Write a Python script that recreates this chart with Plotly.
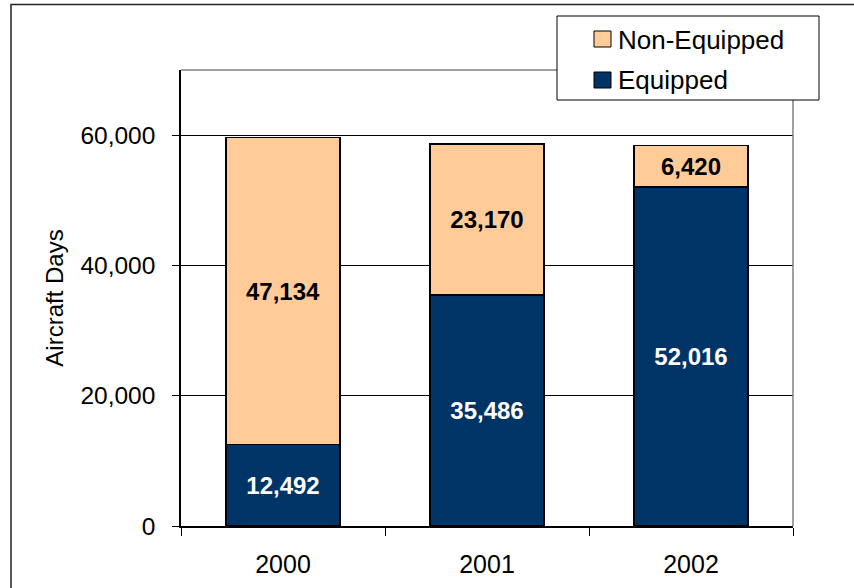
import plotly.graph_objects as go

# Aircraft days by equipage status, per year
years = ["2000", "2001", "2002"]
equipped = [12492, 35486, 52016]
non_equipped = [47134, 23170, 6420]
y_ticks = [0, 20000, 40000, 60000]

W, H = 854, 588
L, R, T, B = 181, 61, 70, 62
PW, PH = W - L - R, H - T - B

FONT = "Arial, Liberation Sans, sans-serif"
NAVY = "#003366"
PEACH = "#FFCC99"


def px(x):
    return (x - L) / PW


def py(y):
    return (H - B - y) / PH


fig = go.Figure()
fig.add_trace(go.Bar(
    x=years, y=equipped, name="Equipped",
    marker=dict(color=NAVY, line=dict(color="black", width=1.5)),
    text=[f"{v:,}" for v in equipped], textposition="inside",
    insidetextanchor="middle", constraintext="none",
    textfont=dict(family=FONT, size=24, color="white", weight="bold"),
    showlegend=False,
))
fig.add_trace(go.Bar(
    x=years, y=non_equipped, name="Non-Equipped",
    marker=dict(color=PEACH, line=dict(color="black", width=1.5)),
    text=[f"{v:,}" for v in non_equipped], textposition="inside",
    insidetextanchor="middle", constraintext="none",
    textfont=dict(family=FONT, size=24, color="black", weight="bold"),
    showlegend=False,
))

shapes = [
    # plot frame: grey top and right edges
    dict(type="line", xref="paper", yref="paper", x0=0, x1=1, y0=1, y1=1,
         line=dict(color="#808080", width=1.5)),
    dict(type="line", xref="paper", yref="paper", x0=1, x1=1, y0=0, y1=1,
         line=dict(color="#808080", width=1.5)),
    # outer chart border
    dict(type="rect", xref="paper", yref="paper",
         x0=px(11), x1=px(W + 20), y0=py(H + 20), y1=py(4.5),
         line=dict(color="#222222", width=1.5), layer="above"),
    # legend box
    dict(type="rect", xref="paper", yref="paper",
         x0=px(557), x1=px(819), y0=py(100), y1=py(16),
         line=dict(color="black", width=1), fillcolor="white", layer="above"),
    # legend swatches
    dict(type="rect", xref="paper", yref="paper",
         x0=px(594), x1=px(611), y0=py(47), y1=py(31),
         line=dict(color="black", width=1), fillcolor=PEACH, layer="above"),
    dict(type="rect", xref="paper", yref="paper",
         x0=px(594), x1=px(611), y0=py(88), y1=py(72),
         line=dict(color="black", width=1), fillcolor=NAVY, layer="above"),
]

annotations = [
    dict(text="Non-Equipped", xref="paper", yref="paper", x=px(616), y=py(40),
         xanchor="left", yanchor="middle", showarrow=False,
         font=dict(family=FONT, size=26, color="black")),
    dict(text="Equipped", xref="paper", yref="paper", x=px(616), y=py(80),
         xanchor="left", yanchor="middle", showarrow=False,
         font=dict(family=FONT, size=26, color="black")),
]

fig.update_layout(
    width=W, height=H,
    margin=dict(l=L, r=R, t=T, b=B),
    barmode="stack", bargap=0.44,
    paper_bgcolor="white", plot_bgcolor="white",
    font=dict(family=FONT, size=24, color="black"),
    shapes=shapes, annotations=annotations,
    xaxis=dict(
        type="category", showline=True, linecolor="black", linewidth=1.5,
        ticks="outside", ticklen=8, tickcolor="black", tickwidth=1,
        tickson="boundaries", showgrid=False, automargin=False,
        tickfont=dict(family=FONT, size=25), ticklabelstandoff=15,
    ),
    yaxis=dict(
        range=[0, 70000], tickvals=y_ticks, tickformat=",d",
        showline=True, linecolor="black", linewidth=1.5,
        ticks="outside", ticklen=7, tickcolor="black", tickwidth=1,
        showgrid=True, gridcolor="black", gridwidth=1, zeroline=False,
        automargin=False,
        tickfont=dict(family=FONT, size=24.5), ticklabelstandoff=12,
        title=dict(text="Aircraft Days", font=dict(family=FONT, size=24),
                   standoff=10),
    ),
)

fig.write_html("out.html")
